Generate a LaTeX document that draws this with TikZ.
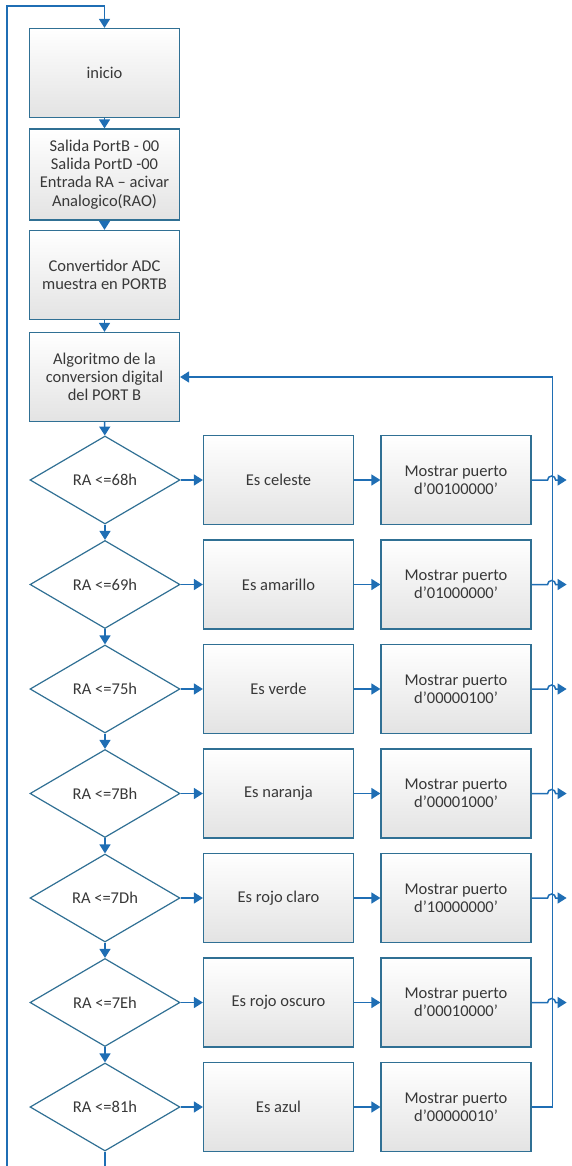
\documentclass[tikz,border=0pt]{standalone}
\usepackage{fontspec}
\setmainfont{Carlito}
\usetikzlibrary{shapes.geometric,arrows.meta}
\definecolor{flujo}{RGB}{31,110,180}
\definecolor{borde}{RGB}{48,112,148}
\tikzset{
  caja/.style={draw=borde, line width=1.2pt, top color=white, bottom color=black!11,
    minimum width=150pt, minimum height=89pt, inner sep=2pt, align=center,
    font=\fontsize{16.5}{18.3}\selectfont, text=black!78},
  rombo/.style={diamond, draw=borde, line width=1.2pt, fill=white,
    minimum width=150pt, minimum height=88pt, inner sep=0pt,
    font=\fontsize{16.5}{18.3}\selectfont, text=black!78},
  flecha/.style={draw=flujo, line width=1.5pt, -{Triangle[width=11pt,length=9pt]}},
  linea/.style={draw=flujo, line width=1.5pt}
}

\begin{document}
\begin{tikzpicture}[x=1pt,y=-1pt]
	%%%%% START %%%%%
	\useasboundingbox (0,0) rectangle (572,1166);
	
	\node[caja] (inicio) at (104.5,73) {inicio};
	\node[caja, minimum height=91pt] (salida) at (104.5,174.5) {Salida PortB - 00\\Salida PortD -00\\Entrada RA – acivar\\Analogico(RAO)};
	\node[caja] (adc) at (104.5,275) {Convertidor ADC\\muestra en PORTB};
	\node[caja] (algo) at (104.5,377) {Algoritmo de la\\conversion digital\\del PORT B};
	
	\draw[flecha] (inicio) -- (salida);
	\draw[flecha] (salida) -- (adc);
	\draw[flecha] (adc) -- (algo);
	
	%% comparaciones
	\foreach \val/\nombre/\code [count=\i] in {68h/celeste/00100000, 69h/amarillo/01000000,
		75h/verde/00000100, 7Bh/naranja/00001000, 7Dh/rojo claro/10000000,
		7Eh/rojo oscuro/00010000, 81h/azul/00000010}{
		\pgfmathsetmacro\fila{480+104.5*(\i-1)}
		\node[rombo] (r\i) at (105,\fila) {RA <=\val};
		\node[caja] (es\i) at (278.5,\fila) {Es \nombre};
		\node[caja] (mo\i) at (456,\fila) {Mostrar puerto\\d’\code’};
		\draw[flecha] (r\i) -- (es\i);
		\draw[flecha] (es\i) -- (mo\i);
	}
	
	\draw[flecha] (algo) -- (r1);
	\foreach \i [evaluate=\i as \j using int(\i+1)] in {1,...,6}{
		\draw[flecha] (r\i) -- (r\j);
		\draw[flecha] (mo\i.east) -- ++(16,0) arc (180:360:4) -- ++(11,0);
	}
	
	%% regreso al algoritmo
	\draw[flecha] (mo7.east) -- ++(21,0) |- (algo.east);
	
	%% lazo izquierdo
	\coordinate (abajo) at (7,1166);
	\coordinate (arriba) at (7,6);
	\coordinate (fin) at (105,1166);
	\draw[flecha] (abajo) -- (arriba) -| (inicio.north);
	\draw[linea] (r7.south) -- (fin);
	%%%%% END %%%%%
\end{tikzpicture}
\end{document}
